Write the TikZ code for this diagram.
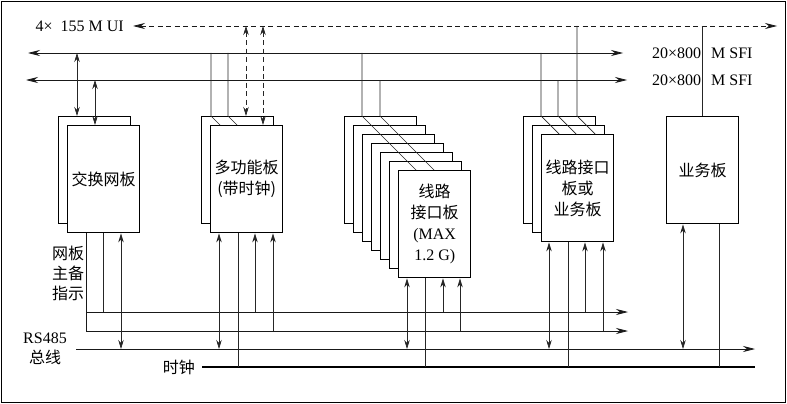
\documentclass[tikz,border=0pt]{standalone}
\usepackage{fontspec}
\setmainfont{Liberation Serif}
\newfontfamily\cjk{Noto Sans CJK SC}
\usetikzlibrary{arrows.meta}

\begin{document}
\begin{tikzpicture}[
    x=1pt, y=-1pt,
    font=\fontsize{16}{21}\selectfont,
    cn/.style={font=\cjk\fontsize{16}{21}\selectfont},
    board/.style={draw, line width=1.4pt, fill=white, minimum width=72pt,
        minimum height=107pt, inner sep=0pt, anchor=north west, align=center},
    wire/.style={line width=0.7pt, black!85},
    bus/.style={line width=0.75pt, black!90},
    vtip/.style={wire, >={Stealth[length=9pt,width=5.5pt]}},
    btip/.style={bus, >={Stealth[length=12pt,width=6pt]}},
    dash9/.style={dash pattern=on 5pt off 3.5pt}
]
    \useasboundingbox (0,0) rectangle (787,404);
    \draw[line width=1.5pt] (1.5,1.5) rectangle (785.5,402.5);

    % top buses
    \coordinate (uiL) at (133,26);
    \coordinate (uiR) at (777,26);
    \coordinate (s1L) at (28,53);
    \coordinate (s1R) at (623,53);
    \coordinate (s2L) at (26,80);
    \coordinate (s2R) at (627,80);
    \node[anchor=east, inner sep=0pt] (ui) at (124,26) {4×\hspace{8pt}155 M UI};
    \draw[btip, dash9, <->] (uiL) -- (uiR);
    \draw[btip, <->] (s1L) -- (s1R);
    \draw[btip, <->] (s2L) -- (s2R);
    \node[anchor=west, inner sep=0pt] (sfi1) at (652,53) {20×800\hspace{10pt}M SFI};
    \node[anchor=west, inner sep=0pt] (sfi2) at (652,80) {20×800\hspace{10pt}M SFI};

    % boards
    \node[board] (sw1) at (58,116) {};
    \node[board, cn] (sw) at (67,125) {交换网板};

    \node[board] (mf1) at (201,116) {};
    \node[board, cn] (mf) at (210,125) {多功能板\\(带时钟)};

    \foreach \k in {1,...,6}
        \node[board] (li\k) at ({344+9*(\k-1)},{116+9*(\k-1)}) {};
    \node[board] (li) at (398,170) {{\cjk 线路}\\{\cjk 接口板}\\(MAX\\1.2 G)};

    \node[board] (lb1) at (523,116) {};
    \node[board] (lb2) at (532,125) {};
    \node[board, cn] (lb) at (541,134) {线路接口\\板或\\业务板};

    \node[board, cn] (bz) at (666,116) {业务板};

    % board to top buses
    \draw[vtip, <->] (77,0 |- s1L) -- (77,0 |- sw1.north);
    \draw[vtip, <->] (95,0 |- s2L) -- (95,0 |- sw.north);
    \draw[wire] (211,0 |- s1L) -- (211,0 |- mf1.north) -- (220,0 |- mf.north);
    \draw[wire] (228,0 |- s1L) -- (228,0 |- mf1.north) -- (237,0 |- mf.north);
    \draw[vtip, dash9, <->] (246,0 |- uiL) -- (246,0 |- mf1.north);
    \draw[vtip, dash9, <->] (263,0 |- uiL) -- (263,0 |- mf.north);
    \draw[wire] (362,0 |- s1L) -- (362,0 |- li1.north) -- (416,0 |- li.north);
    \draw[wire] (380,0 |- s2L) -- (380,0 |- li1.north) -- (434,0 |- li.north);
    \draw[wire] (541,0 |- s1L) -- (541,0 |- lb1.north) -- (559,0 |- lb.north);
    \draw[wire] (558,0 |- s2L) -- (558,0 |- lb1.north) -- (576,0 |- lb.north);
    \draw[wire] (577,0 |- uiL) -- (577,0 |- lb1.north) -- (595,0 |- lb.north);
    \draw[wire] (702,0 |- uiL) -- (702,0 |- bz.north);

    % bottom buses
    \coordinate (aL) at (86,312);
    \coordinate (aR) at (628,312);
    \coordinate (bR) at (628,331);
    \coordinate (rsL) at (76,349);
    \coordinate (rsR) at (755,349);
    \coordinate (ckL) at (202,367);
    \coordinate (ckR) at (755,367);
    \draw[btip, ->] (aL) -- (aR);
    \draw[btip, ->] (86,0 |- sw.south) |- (bR);
    \draw[btip, ->] (rsL) -- (rsR);
    \draw[line width=1.5pt] (ckL) -- (ckR);

    \node[cn, align=center, inner sep=0pt, font=\cjk\fontsize{16}{20}\selectfont] (zb) at (68,273) {网板\\主备\\指示};
    \node[align=center, inner sep=0pt, font=\fontsize{16}{20}\selectfont] (rs) at (45,349) {RS485\\{\cjk 总线}};
    \node[cn, anchor=east, inner sep=0pt] (ck) at (195,367) {时钟};

    % board to bottom buses
    \draw[wire] (103,0 |- sw.south) -- (103,0 |- aL);
    \draw[vtip, <->] (121,0 |- sw.south) -- (121,0 |- rsL);

    \draw[vtip, <->] (219,0 |- mf.south) -- (219,0 |- rsL);
    \draw[wire] (238,0 |- mf.south) -- (238,0 |- ckL);
    \draw[vtip, ->] (255,0 |- aL) -- (255,0 |- mf.south);
    \draw[vtip, ->] (273,0 |- bR) -- (273,0 |- mf.south);

    \draw[vtip, <->] (407,0 |- li.south) -- (407,0 |- rsL);
    \draw[wire] (425,0 |- li.south) -- (425,0 |- ckL);
    \draw[vtip, ->] (443,0 |- aL) -- (443,0 |- li.south);
    \draw[vtip, ->] (460,0 |- bR) -- (460,0 |- li.south);

    \draw[vtip, <->] (549,0 |- lb.south) -- (549,0 |- rsL);
    \draw[wire] (568,0 |- lb.south) -- (568,0 |- ckL);
    \draw[vtip, ->] (585,0 |- aL) -- (585,0 |- lb.south);
    \draw[vtip, ->] (603,0 |- bR) -- (603,0 |- lb.south);

    \draw[vtip, <->] (683,0 |- bz.south) -- (683,0 |- rsL);
    \draw[wire] (719,0 |- bz.south) -- (719,0 |- ckL);
\end{tikzpicture}
\end{document}
